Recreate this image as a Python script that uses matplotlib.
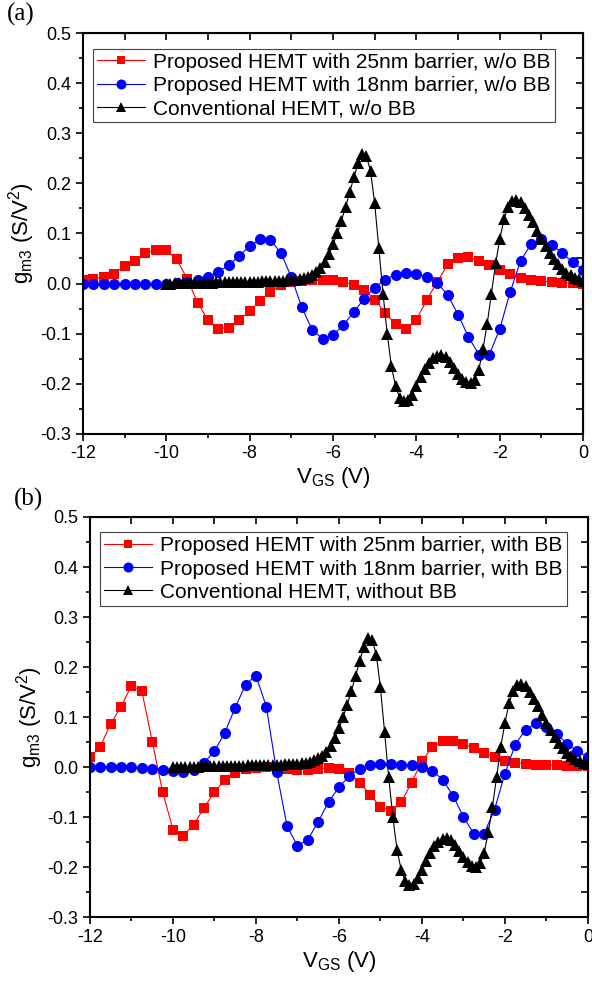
import numpy as np
import matplotlib
matplotlib.use("Agg")
import matplotlib.pyplot as plt
from matplotlib.ticker import MultipleLocator

plt.rcParams['font.family'] = ['Liberation Sans', 'DejaVu Sans']
plt.rcParams['mathtext.default'] = 'regular'

# gate voltage grids
vgs_coarse = np.arange(-12, 0.001, 0.25)   # proposed HEMT data
vgs_fine = np.arange(-10, 0.001, 0.1)      # conventional HEMT data

# (a) without back barrier
red_a = [0.007, 0.009, 0.013, 0.020, 0.035, 0.045, 0.060, 0.067, 0.067, 0.048,
         0.010, -0.038, -0.073, -0.090, -0.088, -0.073, -0.055, -0.035, -0.017, -0.002,
         0.004, 0.006, 0.008, 0.008, 0.007, 0.003, -0.003, -0.013, -0.032, -0.059,
         -0.081, -0.091, -0.072, -0.033, 0.003, 0.038, 0.050, 0.053, 0.045, 0.037,
         0.027, 0.019, 0.011, 0.008, 0.005, 0.003, 0.002, 0.002, 0.000]
blue_a = [0, 0, 0, 0, 0, 0, 0, 0, 0, 0.001,
          0.003, 0.007, 0.013, 0.023, 0.037, 0.055, 0.075, 0.088, 0.087, 0.061,
          0.013, -0.047, -0.093, -0.110, -0.103, -0.083, -0.057, -0.030, -0.008, 0.008,
          0.018, 0.021, 0.020, 0.013, 0.002, -0.023, -0.062, -0.107, -0.142, -0.142,
          -0.091, -0.017, 0.045, 0.079, 0.088, 0.077, 0.061, 0.042, 0.028]

# conventional HEMT (same in both panels)
black = [0.000, 0.000, 0.001, 0.001, 0.001, 0.001, 0.001, 0.002, 0.002, 0.002,
         0.002, 0.002, 0.003, 0.003, 0.003, 0.003, 0.003, 0.003, 0.004, 0.004,
         0.004, 0.004, 0.004, 0.005, 0.005, 0.005, 0.005, 0.006, 0.006, 0.007,
         0.007, 0.008, 0.009, 0.011, 0.014, 0.018, 0.023, 0.031, 0.042, 0.058,
         0.078, 0.100, 0.125, 0.152, 0.182, 0.212, 0.240, 0.258, 0.255, 0.225,
         0.160, 0.070, -0.020, -0.100, -0.165, -0.205, -0.228, -0.235, -0.233, -0.222,
         -0.205, -0.187, -0.171, -0.158, -0.149, -0.144, -0.142, -0.146, -0.156, -0.168,
         -0.180, -0.190, -0.197, -0.199, -0.192, -0.172, -0.130, -0.080, -0.020, 0.040,
         0.088, 0.128, 0.153, 0.165, 0.167, 0.162, 0.150, 0.136, 0.122, 0.105,
         0.088, 0.075, 0.060, 0.048, 0.038, 0.029, 0.022, 0.017, 0.012, 0.009,
         0.006]

# (b) with back barrier
red_b = [0.020, 0.041, 0.087, 0.121, 0.163, 0.152, 0.051, -0.049, -0.125, -0.137,
         -0.115, -0.081, -0.050, -0.025, -0.011, -0.004, -0.001, 0.000, -0.001, -0.003,
         -0.005, -0.005, -0.003, -0.002, -0.003, -0.011, -0.031, -0.055, -0.079, -0.088,
         -0.070, -0.031, 0.012, 0.040, 0.052, 0.053, 0.047, 0.038, 0.029, 0.020,
         0.013, 0.009, 0.007, 0.005, 0.004, 0.004, 0.003, 0.003, 0.002]
blue_b = [0, 0, 0, 0, 0, -0.001, -0.003, -0.005, -0.007, -0.009,
          -0.005, 0.009, 0.032, 0.069, 0.119, 0.165, 0.183, 0.121, -0.010, -0.118,
          -0.157, -0.145, -0.109, -0.070, -0.040, -0.018, -0.003, 0.005, 0.006, 0.006,
          0.005, 0.004, 0.001, -0.007, -0.025, -0.057, -0.099, -0.133, -0.133, -0.085,
          -0.013, 0.045, 0.075, 0.088, 0.080, 0.066, 0.047, 0.032, 0.020]

labels_a = ["Proposed HEMT with 25nm barrier, w/o BB",
            "Proposed HEMT with 18nm barrier, w/o BB",
            "Conventional HEMT, w/o BB"]
labels_b = ["Proposed HEMT with 25nm barrier, with BB",
            "Proposed HEMT with 18nm barrier, with BB",
            "Conventional HEMT, without BB"]


def draw_panel(ax, red, blue, labels, tag, tag_xy):
    ax.plot(vgs_coarse, red, color='#ff0000', marker='s', markersize=6.5, lw=0.8,
            markeredgewidth=0, label=labels[0])
    ax.plot(vgs_coarse, blue, color='#0000ff', marker='o', markersize=8, lw=0.8,
            markeredgewidth=0, label=labels[1])
    ax.plot(vgs_fine, black, color='black', marker='^', markersize=8, lw=0.8,
            markeredgewidth=0, label=labels[2])

    ax.set_xlim(-12, 0)
    ax.set_ylim(-0.3, 0.5)
    ax.xaxis.set_major_locator(MultipleLocator(2))
    ax.xaxis.set_minor_locator(MultipleLocator(1))
    ax.yaxis.set_major_locator(MultipleLocator(0.1))
    ax.yaxis.set_minor_locator(MultipleLocator(0.05))
    ax.set_xticklabels([f"{int(v)}" for v in ax.get_xticks()])
    ax.set_yticklabels([f"{v:.1f}" for v in ax.get_yticks()])
    ax.tick_params(which='both', direction='out', width=1.2, labelsize=13)
    ax.tick_params(which='major', length=5)
    ax.tick_params(which='minor', length=3)
    for s in ax.spines.values():
        s.set_linewidth(1.5)

    # mirrored ticks on top / right pointing inwards
    top = ax.secondary_xaxis('top')
    top.set_xticks(np.arange(-12, 1, 1))
    top.tick_params(direction='in', length=5, width=1.2, labeltop=False)
    right = ax.secondary_yaxis('right')
    right.set_yticks(np.arange(-0.3, 0.51, 0.05))
    right.tick_params(direction='in', length=5, width=1.2, labelright=False)

    ax.set_xlabel(r"V$_{GS}$ (V)", fontsize=16, labelpad=2)
    ax.set_ylabel(r"g$_{m3}$ (S/V$^2$)", fontsize=16, labelpad=2)

    leg = ax.legend(loc='upper left', bbox_to_anchor=(0.02, 0.962), fontsize=15,
                    handlelength=2.3, handletextpad=0.4, borderpad=0.2,
                    labelspacing=0.2, borderaxespad=0, fancybox=False,
                    framealpha=1, markerscale=0.9)
    leg.get_frame().set_edgecolor('#444444')
    leg.get_frame().set_linewidth(0.8)

    plt.gcf().text(tag_xy[0], tag_xy[1], tag, fontsize=18,
                   family='Liberation Serif', va='top')


fig = plt.figure(figsize=(5.92, 9.81), dpi=100)
ax_a = fig.add_axes([0.140, 0.558, 0.845, 0.408])
ax_b = fig.add_axes([0.152, 0.065, 0.841, 0.408])

draw_panel(ax_a, red_a, blue_a, labels_a, "(a)", (0.012, 0.997))
draw_panel(ax_b, red_b, blue_b, labels_b, "(b)", (0.024, 0.503))

fig.savefig("out.png", dpi=100)
